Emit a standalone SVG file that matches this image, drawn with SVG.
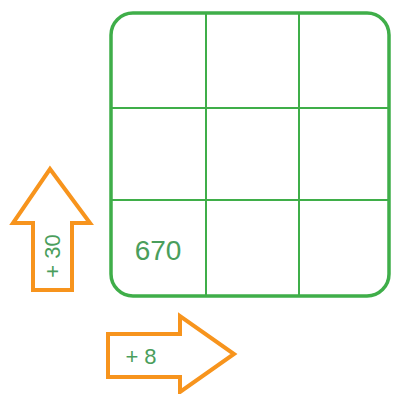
<svg xmlns="http://www.w3.org/2000/svg" width="394" height="394" viewBox="0 0 394 394">
<style>
.grid{fill:none;stroke:#3fae49;}
.arrow{fill:#fff;stroke:#f7941d;stroke-width:4;stroke-linejoin:miter;}
.lbl{font-family:"Liberation Sans",Arial,sans-serif;fill:#4a9e5c;}
</style>
<rect width="394" height="394" fill="#fff"/>
<g id="grid">
<rect class="grid" x="111" y="13" width="278" height="283" rx="22" stroke-width="3.5"/>
<line class="grid" x1="206" y1="13" x2="206" y2="296" stroke-width="2"/>
<line class="grid" x1="299" y1="13" x2="299" y2="296" stroke-width="2"/>
<line class="grid" x1="111" y1="108" x2="389" y2="108" stroke-width="2"/>
<line class="grid" x1="111" y1="200" x2="389" y2="200" stroke-width="2"/>
<text class="lbl" x="158" y="260" font-size="28" text-anchor="middle">670</text>
</g>
<g id="up-arrow">
<polygon class="arrow" points="50,169 90,223 72,223 72,290 33,290 33,223 13,223"/>
<text class="lbl" transform="translate(60,256) rotate(-90)" font-size="22" text-anchor="middle">+ 30</text>
</g>
<g id="right-arrow">
<polygon class="arrow" points="108,334 180,334 180,316 234,354 180,392 180,377 108,377"/>
<text class="lbl" x="141" y="364" font-size="22" text-anchor="middle">+ 8</text>
</g>
</svg>
